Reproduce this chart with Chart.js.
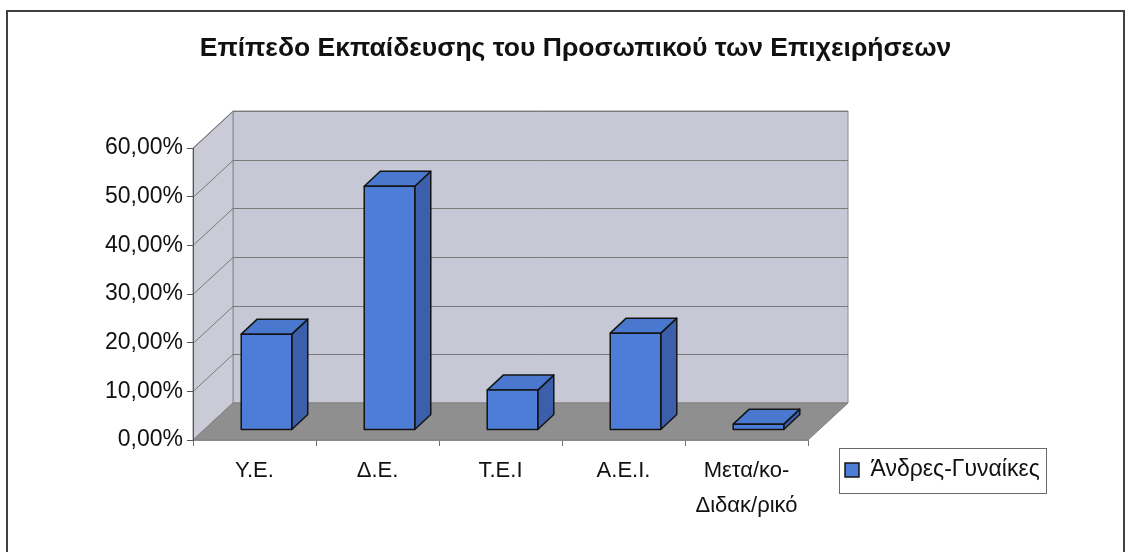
<!DOCTYPE html>
<html>
<head>
<meta charset="utf-8">
<script src="https://cdn.jsdelivr.net/npm/chart.js@4.4.1/dist/chart.umd.min.js"></script>
<style>
  html, body { margin: 0; padding: 0; background: #ffffff; }
  #wrap { width: 1131px; height: 552px; position: relative; }
</style>
</head>
<body>
<div id="wrap"><canvas id="c" width="1131" height="552"></canvas></div>
<script>
// ---- data ----
const chartTitle = 'Επίπεδο Εκπαίδευσης του Προσωπικού των Επιχειρήσεων';
const categories = ['Υ.Ε.', 'Δ.Ε.', 'Τ.Ε.Ι', 'Α.Ε.Ι.', ['Μετα/κο-', 'Διδακ/ρικό']];
const seriesName = 'Άνδρες-Γυναίκες';
const seriesValues = [19.7, 50.1, 8.2, 19.9, 1.2];
const yTickValues = [0, 10, 20, 30, 40, 50, 60];

// ---- style ----
const FONT_REG = "'Liberation Sans', Arial, sans-serif";
const CAT_SIZE = 22;
const LEG_SIZE = 23;
const WALL_DX = 40, WALL_DY = -37;     // depth of the floor / walls
const BAR_DX = 12, BAR_DY = -10;       // bar front plane offset from the axis plane
const DEPTH_DX = 16, DEPTH_DY = -15;   // bar depth
const COL_FRONT = '#4D7DD6', COL_TOP = '#4A78CF', COL_SIDE = '#3B5FAB', COL_EDGE = '#141414';

function poly(c, pts, fill, stroke, lw) {
  c.beginPath();
  c.moveTo(pts[0][0], pts[0][1]);
  for (let i = 1; i < pts.length; i++) c.lineTo(pts[i][0], pts[i][1]);
  c.closePath();
  if (fill) { c.fillStyle = fill; c.fill(); }
  if (stroke) { c.strokeStyle = stroke; c.lineWidth = lw || 1; c.stroke(); }
}

const scene3d = {
  id: 'scene3d',
  afterLayout(chart) {
    const lg = chart.legend;
    if (!lg) return;
    const w = lg.width, h = 45;
    lg.left = 835; lg.right = 835 + w;
    lg.top = 448.5; lg.bottom = 448.5 + h;
  },
  beforeDraw(chart) {
    const c = chart.ctx, a = chart.chartArea, ys = chart.scales.y;
    const L = a.left, R = a.right, T = a.top, B = a.bottom;
    c.save();
    c.fillStyle = '#ffffff';
    c.fillRect(0, 0, chart.width, chart.height);
    // outer frame
    c.strokeStyle = '#404040'; c.lineWidth = 2;
    c.strokeRect(7, 11, chart.width - 14, chart.height + 40);
    // back wall
    poly(c, [[L + WALL_DX, T + WALL_DY], [R + WALL_DX, T + WALL_DY], [R + WALL_DX, B + WALL_DY], [L + WALL_DX, B + WALL_DY]], '#C7C8D5', '#8A8A8A', 1);
    // side wall
    poly(c, [[L, T], [L + WALL_DX, T + WALL_DY], [L + WALL_DX, B + WALL_DY], [L, B]], '#CACBD7', '#8A8A8A', 1);
    // gridlines on side + back wall
    c.strokeStyle = '#7A7A7A'; c.lineWidth = 1;
    ys.ticks.forEach(t => {
      const y = Math.round(ys.getPixelForValue(t.value)) + 0.5;
      c.beginPath();
      c.moveTo(L, y);
      c.lineTo(L + WALL_DX, y + WALL_DY);
      c.lineTo(R + WALL_DX, y + WALL_DY);
      c.stroke();
    });
    // floor
    poly(c, [[L, B], [R, B], [R + WALL_DX, B + WALL_DY], [L + WALL_DX, B + WALL_DY]], '#8F8F8F', '#808080', 1);
    c.restore();
  },
  beforeDatasetsDraw(chart) {
    const c = chart.ctx;
    c.save();
    c.lineJoin = 'round';
    chart.getSortedVisibleDatasetMetas().forEach(meta => {
      meta.data.forEach(bar => {
        const p = bar.getProps(['x', 'y', 'base', 'width'], true);
        const l = p.x - p.width / 2 + BAR_DX, r = p.x + p.width / 2 + BAR_DX;
        const t = Math.min(p.y, p.base) + BAR_DY, b = Math.max(p.y, p.base) + BAR_DY;
        poly(c, [[r, t], [r + DEPTH_DX, t + DEPTH_DY], [r + DEPTH_DX, b + DEPTH_DY], [r, b]], COL_SIDE, COL_EDGE, 1.5);
        poly(c, [[l, t], [l + DEPTH_DX, t + DEPTH_DY], [r + DEPTH_DX, t + DEPTH_DY], [r, t]], COL_TOP, COL_EDGE, 1.5);
        poly(c, [[l, t], [r, t], [r, b], [l, b]], COL_FRONT, COL_EDGE, 1.5);
      });
    });
    c.restore();
    return false;
  },
  afterDraw(chart) {
    const lg = chart.legend;
    if (!lg) return;
    const c = chart.ctx;
    c.save();
    c.font = LEG_SIZE + "px " + FONT_REG;
    const tw = c.measureText(seriesName).width;
    const x0 = 839;
    const w = (lg.left + 10 + 14 + LEG_SIZE / 2 + tw + 6) - x0;
    c.strokeStyle = '#6A6A6A'; c.lineWidth = 1;
    c.strokeRect(x0 + 0.5, 448.5, Math.round(w), 45);
    c.restore();
  }
};

new Chart(document.getElementById('c').getContext('2d'), {
  type: 'bar',
  data: {
    labels: categories,
    datasets: [{
      label: seriesName,
      data: seriesValues,
      backgroundColor: COL_FRONT,
      borderColor: COL_EDGE,
      borderWidth: 1.5,
      categoryPercentage: 0.822,
      barPercentage: 0.5
    }]
  },
  options: {
    responsive: false,
    animation: false,
    layout: { padding: { left: 20, right: 0, top: 0, bottom: 0 } },
    plugins: {
      title: {
        display: true,
        text: chartTitle,
        color: '#111111',
        font: { family: FONT_REG, size: 26.5, weight: 'bold', lineHeight: 1.2 },
        padding: { top: 33, bottom: 83.2 }
      },
      legend: {
        position: 'chartArea',
        align: 'start',
        labels: {
          color: '#111111',
          font: { family: FONT_REG, size: LEG_SIZE },
          boxWidth: 14,
          boxHeight: 14,
          padding: 10
        }
      },
      tooltip: { enabled: false }
    },
    scales: {
      x: {
        grid: { drawOnChartArea: false, drawTicks: true, tickLength: 6, color: '#707070', offset: true },
        border: { display: true, color: '#8A8A8A', width: 1 },
        ticks: {
          color: '#111111',
          font: { family: FONT_REG, size: CAT_SIZE, lineHeight: 1.6 },
          padding: 7,
          maxRotation: 0,
          autoSkip: false
        },
        afterFit: s => { s.height = 112; }
      },
      y: {
        min: 0,
        max: 60,
        afterBuildTicks: s => { s.ticks = yTickValues.map(v => ({ value: v })); },
        ticks: {
          color: '#111111',
          font: { family: FONT_REG, size: 23 },
          padding: 4,
          callback: v => v.toFixed(2).replace('.', ',') + '%'
        },
        grid: { drawOnChartArea: false, drawTicks: true, tickLength: 6, color: '#555555' },
        border: { display: true, color: '#555555', width: 1 },
        afterFit: s => { s.width = 173; }
      },
      yR: {
        position: 'right',
        display: true,
        min: 0,
        max: 1,
        ticks: { display: false },
        grid: { display: false, drawTicks: false },
        border: { display: false },
        afterFit: s => { s.width = 323; }
      }
    }
  },
  plugins: [scene3d]
});
</script>
</body>
</html>
